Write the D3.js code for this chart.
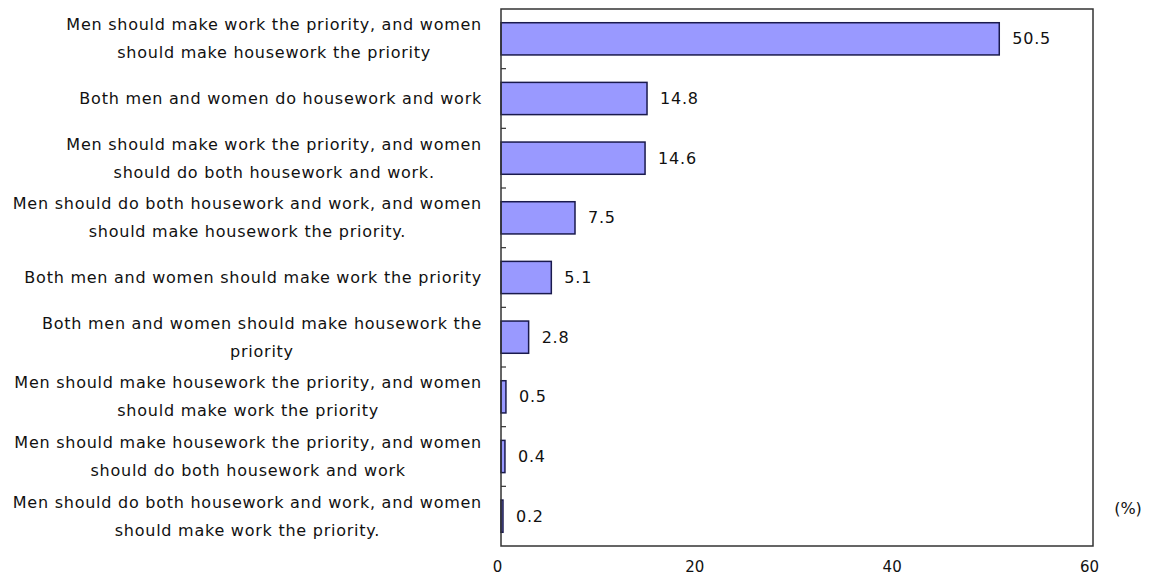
<!DOCTYPE html>
<html>
<head>
<meta charset="utf-8">
<script src="https://cdn.jsdelivr.net/npm/d3@7"></script>
<style>
  html, body { margin: 0; padding: 0; background: #fff; }
  svg { display: block; }
  text { font-family: "DejaVu Sans", sans-serif; fill: #111; }
</style>
</head>
<body>
<svg id="chart" width="1149" height="578"></svg>
<script>
// Category labels (each entry is the list of lines shown for that bar)
const categories = [
  ["Men should make work the priority, and women", "should make housework the priority"],
  ["Both men and women do housework and work"],
  ["Men should make work the priority, and women", "should do both housework and work."],
  ["Men should do both housework and work, and women", "should make housework the priority."],
  ["Both men and women should make work the priority"],
  ["Both men and women should make housework the", "priority"],
  ["Men should make housework the priority, and women", "should make work the priority"],
  ["Men should make housework the priority, and women", "should do both housework and work"],
  ["Men should do both housework and work, and women", "should make work the priority."]
];
const values = [50.5, 14.8, 14.6, 7.5, 5.1, 2.8, 0.5, 0.4, 0.2];
const xTicks = [0, 20, 40, 60];
const unitLabel = "(%)";

const svg = d3.select("#chart");
const plot = { left: 501, right: 1093, top: 9, bottom: 546 };

const x = d3.scaleLinear().domain([0, 60]).range([plot.left, plot.right]);
const y = d3.scaleBand()
  .domain(d3.range(categories.length))
  .range([plot.top, plot.bottom])
  .paddingInner(0.46)
  .paddingOuter(0.23);

// Bars
svg.append("g").selectAll("rect")
  .data(values)
  .join("rect")
  .attr("x", x(0))
  .attr("y", (d, i) => y(i))
  .attr("width", d => x(d) - x(0))
  .attr("height", y.bandwidth())
  .attr("fill", "#9999ff")
  .attr("stroke", "#1a1a4d")
  .attr("stroke-width", 1.5);

// Value labels to the right of each bar
svg.append("g").selectAll("text")
  .data(values)
  .join("text")
  .attr("x", d => x(d) + 13)
  .attr("y", (d, i) => y(i) + y.bandwidth() / 2)
  .attr("dy", "0.35em")
  .attr("font-size", 16)
  .attr("letter-spacing", 0.8)
  .text(d => d.toFixed(1));

// Plot frame
svg.append("rect")
  .attr("x", plot.left).attr("y", plot.top)
  .attr("width", plot.right - plot.left)
  .attr("height", plot.bottom - plot.top)
  .attr("fill", "none")
  .attr("stroke", "#333")
  .attr("stroke-width", 1.5);

// Category separator ticks on the left axis (pointing inward)
svg.append("g").selectAll("line")
  .data(d3.range(1, categories.length))
  .join("line")
  .attr("x1", plot.left).attr("x2", plot.left + 5)
  .attr("y1", i => plot.top + i * (plot.bottom - plot.top) / categories.length)
  .attr("y2", i => plot.top + i * (plot.bottom - plot.top) / categories.length)
  .attr("stroke", "#333")
  .attr("stroke-width", 1.2);

// X axis labels (no tick marks, just numbers under the frame)
const xAxis = d3.axisBottom(x).tickValues(xTicks).tickSize(0).tickPadding(15);
const gx = svg.append("g")
  .attr("transform", `translate(0,${plot.bottom})`)
  .call(xAxis);
gx.select(".domain").remove();
gx.selectAll("text")
  .attr("font-size", 15)
  .attr("font-family", "DejaVu Sans, sans-serif")
  .attr("fill", "#111")
  .attr("dx", -4);

// Unit label
svg.append("text")
  .attr("x", 1128).attr("y", 508)
  .attr("dy", "0.35em")
  .attr("text-anchor", "middle")
  .attr("font-size", 16)
  .text(unitLabel);

// Category labels: each block right-aligned at the axis, lines centered within the block
const labelRight = 482;
const lineGap = 28;
const gLabels = svg.append("g");
categories.forEach((lines, i) => {
  const cy = y(i) + y.bandwidth() / 2;
  const g = gLabels.append("g");
  const texts = lines.map((ln, k) => g.append("text")
    .attr("font-size", 16)
    .attr("letter-spacing", 0.75)
    .attr("text-anchor", "middle")
    .attr("dy", "0.35em")
    .attr("y", cy + (k - (lines.length - 1) / 2) * lineGap)
    .text(ln));
  const maxW = d3.max(texts, t => t.node().getComputedTextLength());
  texts.forEach(t => t.attr("x", labelRight - maxW / 2));
});
</script>
</body>
</html>
